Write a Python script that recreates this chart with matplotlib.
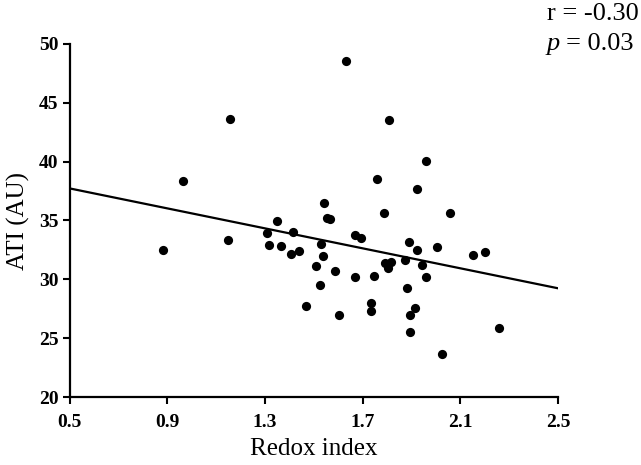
import matplotlib
matplotlib.use("Agg")
import matplotlib.pyplot as plt
import numpy as np

redox = [1.633, 1.157, 0.966, 1.540, 1.807, 1.960, 1.760, 1.924, 1.786, 2.058,
         1.554, 1.568, 1.350, 1.309, 1.413, 1.147, 0.884, 1.315, 1.365, 1.406,
         1.438, 1.531, 1.536, 1.509, 1.587, 1.669, 1.525, 1.469, 1.602, 1.670,
         1.692, 1.745, 1.734, 1.734, 1.889, 1.923, 2.006, 2.150, 2.200, 1.793,
         1.816, 1.806, 1.872, 1.945, 1.960, 1.882, 1.916, 1.893, 1.893, 2.257,
         2.027]
ati = [48.55, 43.64, 38.35, 36.46, 43.56, 40.05, 38.55, 37.70, 35.60, 35.60,
       35.18, 35.10, 34.95, 33.90, 34.00, 33.37, 32.52, 32.94, 32.83, 32.18,
       32.40, 32.97, 31.98, 31.13, 30.73, 30.17, 29.54, 27.73, 27.00, 33.80,
       33.50, 30.28, 27.96, 27.30, 33.17, 32.52, 32.72, 32.09, 32.29, 31.36,
       31.47, 30.93, 31.64, 31.21, 30.17, 29.24, 27.54, 26.99, 25.50, 25.84,
       23.63]
line_x = [0.5, 2.5]
line_y = [37.73, 29.24]
x_ticks = [0.5, 0.9, 1.3, 1.7, 2.1, 2.5]
y_ticks = [20, 25, 30, 35, 40, 45, 50]

plt.rcParams['font.family'] = ['Liberation Serif', 'DejaVu Serif']

fig = plt.figure(figsize=(6.41, 4.65), dpi=100)
ax = fig.add_axes([69.5/641, 1-397/465, (558-69.5)/641, (397-44)/465])

ax.scatter(redox, ati, s=44, color='black', zorder=3, linewidths=0)
ax.plot(line_x, line_y, color='black', lw=1.6, zorder=2)

ax.set_xlim(0.5, 2.5)
ax.set_ylim(20, 50)
ax.set_xticks(x_ticks)
ax.set_xticklabels([f"{v:.1f}" for v in x_ticks])
ax.set_yticks(y_ticks)
ax.set_yticklabels([str(v) for v in y_ticks])

for s in ['top', 'right']:
    ax.spines[s].set_visible(False)
for s in ['left', 'bottom']:
    ax.spines[s].set_linewidth(1.6)
ax.tick_params(direction='out', length=5, width=1.5, labelsize=14, pad=3)
for lab in ax.get_xticklabels() + ax.get_yticklabels():
    lab.set_fontweight('bold')
ax.tick_params(axis='x', pad=7)

ax.set_xlabel("Redox index", fontsize=18, labelpad=5)
ax.set_ylabel("ATI (AU)", fontsize=18, labelpad=6)

fig.text(639/641, 1-20/465, "r = -0.30", ha='right', va='baseline', fontsize=19)
fig.text(633/641, 1-50/465, "= 0.03", ha='right', va='baseline', fontsize=19)
fig.text(547/641, 1-50/465, "p", ha='left', va='baseline', fontsize=19, style='italic')

fig.savefig("out.png", dpi=100)
